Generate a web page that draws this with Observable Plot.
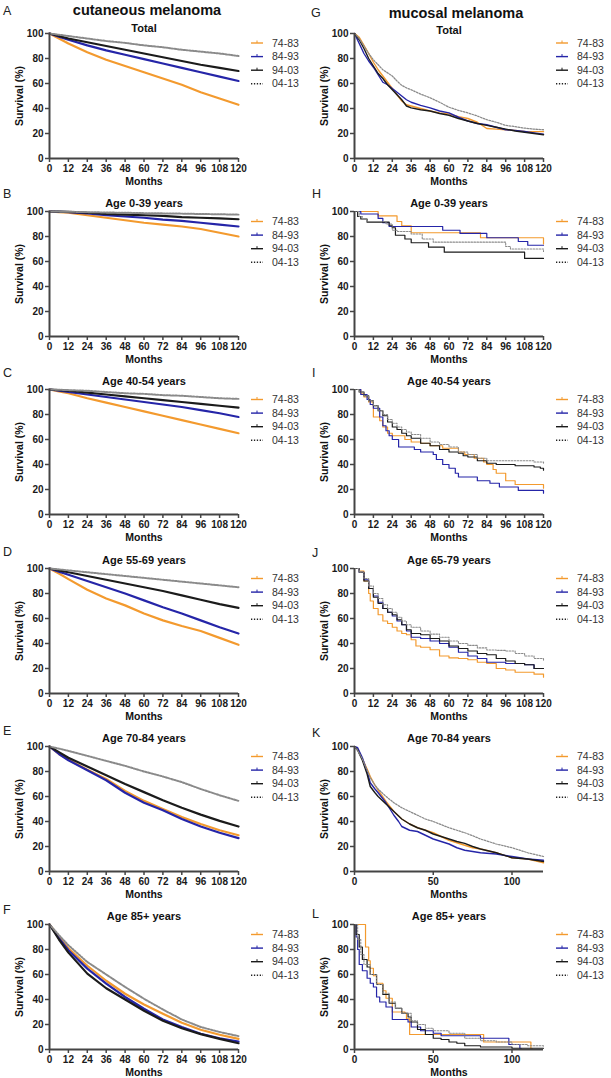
<!DOCTYPE html>
<html><head><meta charset="utf-8">
<script src="https://cdn.jsdelivr.net/npm/d3@7"></script>
<script src="https://cdn.jsdelivr.net/npm/@observablehq/plot@0.6"></script>
<style>
body{margin:0;background:#fff;font-family:"Liberation Sans",Arial,sans-serif;}
#fig{position:relative;width:611px;height:1078px;overflow:hidden;background:#fff;}
</style></head><body><div id="fig"></div>
<script>
// ---------------- data ----------------
const columnTitles = ["cutaneous melanoma", "mucosal melanoma"];
const panelLetters = ["A","B","C","D","E","F","G","H","I","J","K","L"];
const panelTitles = ["Total","Age 0-39 years","Age 40-54 years","Age 55-69 years","Age 70-84 years","Age 85+ years",
                     "Total","Age 0-39 years","Age 40-54 years","Age 65-79 years","Age 70-84 years","Age 85+ years"];
const periods = ["74-83","84-93","94-03","04-13"];
const survivalTicks = [0,20,40,60,80,100];
const monthTicks12 = [0,12,24,36,48,60,72,84,96,108,120];
const monthTicks50 = [0,50,100];
const xLabel = "Months";
const yLabel = "Survival (%)";

// cutaneous: survival (%) at these months, per period
const cutMonths = [0,6,12,24,36,48,60,72,84,96,108,120];
const cutA = [
  [100,96,92,85,79,74,69,64,59,53,48,43],
  [100,97.5,95,90.5,86.5,83,79.5,76,72.5,69,65.5,62],
  [100,98,96,93,90,87,84,81,78,75,72.5,70],
  [100,99,98,96,94,92.5,90.5,89,87,85.5,84,82]];
const cutB = [
  [100,99.5,99,97,95,93,91,89.5,88,86,83,80],
  [100,99.8,99.5,98.5,97,96,95,93.5,92.5,91,89.5,88],
  [100,99.9,99.7,99,98,97.5,97,96.5,95.5,95,94.5,93.8],
  [100,99.9,99.8,99.5,99.2,99,98.7,98.5,98.3,98,97.8,97.5]];
const cutC = [
  [100,98.5,97,93,89.5,86,82.5,79,75.5,72,68.5,65],
  [100,99,98,96,94,92,90,88,86,83.5,81,78],
  [100,99.5,99,97.5,96,94.5,93,91.5,90,88.5,87,85.5],
  [100,99.8,99.5,99,98,97,96.5,95.5,95,94,93,92.5]];
const cutD = [
  [100,96,91.5,83,76,70.5,64,58.5,54,50,44.5,39],
  [100,97.5,95,90,85,80,74.5,69,64,58.5,53,48],
  [100,98.5,97,94,91,88,85,82,78.5,75,71.5,68.5],
  [100,99.3,98.5,97,95.5,94,92.5,91,89.5,88,86.5,85]];
const cutE = [
  [100,94,89.5,81.5,74,64.5,56.5,50,43.5,38,33,29],
  [100,94,89,81,73,63,55,49,42,36,31,26.7],
  [100,95.5,91,84,77,70,63.5,57,51,45.5,40.5,36],
  [100,98.3,96.5,92.5,88.5,84.5,80,76,71.5,66,61,56.5]];
const cutF = [
  [100,90,81,67,55,44.6,36,28.6,21.4,15.8,11.8,8.5],
  [100,89,79.4,64.7,52.7,42,32.6,24,18,12.6,9,6.4],
  [100,88,77.5,60.7,49,40,31,23,17,12.3,8.5,5],
  [100,91.5,83.4,70,60,50,40.6,32,24,18,14,10.7]];

// mucosal: [month, survival %] per period
const mucG = [
  [[0,100],[3,97],[6,90.5],[9,84],[12,77],[15,71],[18,66],[21,61],[24,56],[27,51],[30,46],[33,43],[36,42],[42,40],[48,38],[54,36.5],[60,35.7],[66,33.5],[72,32],[78,29],[84,24],[90,23.5],[96,23],[102,22.5],[108,21.6],[114,21.5],[120,21.5]],
  [[0,100],[3,92],[6,84],[9,78],[12,73],[15,67],[18,61],[21,59],[24,56],[27,53],[30,50],[33,47],[36,45],[42,42.5],[48,40.5],[54,38],[60,36.5],[66,33],[72,30],[78,28],[84,27],[90,25],[96,23],[102,22.5],[108,21.6],[114,20.5],[120,19.5]],
  [[0,100],[3,95],[6,88],[9,80],[12,74],[15,68],[18,64],[21,59],[24,55],[27,51],[30,47],[33,42],[36,40.5],[42,39],[48,38],[54,36],[60,34.6],[66,32],[72,30],[78,28],[84,26.5],[90,25],[96,23.5],[102,22],[108,21],[114,20],[120,19]],
  [[0,100],[3,96],[6,90],[9,84],[12,79],[15,75],[18,71],[21,68.5],[24,66],[27,62],[30,58.5],[33,56.5],[36,55],[42,51.5],[48,48.6],[54,45],[60,41],[66,38.5],[72,36.5],[78,34],[84,31],[90,29],[96,26.5],[102,25.5],[108,24.3],[114,23.5],[120,23]]];
const mucH = [
  [[0,100],[15,96.5],[27,92],[30,88.5],[36,83],[80,79],[120,74]],
  [[0,100],[4,98],[15,94.5],[18,91],[22,88],[56,85],[67,82.5],[84,79],[104,76],[110,73],[120,73]],
  [[0,100],[2,96],[4,94],[8,91.5],[22,89],[24,87],[26,81],[32,78],[36,75],[47,71.5],[57,67.5],[108,62.5],[120,62.5]],
  [[0,100],[3,96],[5,94],[8,92],[20,90],[24,85],[27,84],[36,82],[43,78],[50,75.5],[96,72],[99,70],[120,68]]];
const mucI = [
  [[0,100],[4,97],[6,94],[9,90],[12,78],[16,75],[18,70],[21,65],[24,63],[32,60],[36,58],[42,57],[48,55],[56,53],[66,50],[70,48],[76,45],[82,42],[84,40],[88,36],[90,33],[96,27],[102,24],[120,21]],
  [[0,100],[4,96],[8,92],[10,88],[12,85],[16,78],[18,71],[20,67],[22,63],[24,60],[28,54],[38,52],[42,50],[50,48],[52,44],[56,40],[60,37],[64,33],[66,30],[78,27],[86,25],[92,22],[104,19.3],[120,17]],
  [[0,100],[3,98],[6,95],[9,91],[12,87],[15,83],[18,79],[21,74],[24,70],[27,68],[30,65],[33,63],[36,61],[42,57],[48,55],[54,52],[60,50],[66,49],[69,47],[72,46],[78,43],[84,41],[90,40],[102,39],[114,38],[118,37],[120,35.5]],
  [[0,100],[3,98],[6,95],[9,91],[12,87],[15,83],[18,80],[21,76],[24,73],[27,70],[30,68],[33,66],[36,64],[42,61],[48,58],[54,56],[60,54],[66,50],[72,48],[78,45],[84,43],[108,43],[114,42],[120,41]]];
const mucJ = [
  [[0,100],[3,98],[6,90],[9,80],[10,74],[12,68],[15,63],[18,58],[21,56],[24,53],[27,50],[30,48],[33,47],[36,43],[39,38],[42,37],[48,35],[54,30],[60,28.5],[66,28],[72,27],[78,25],[84,24],[90,20],[96,18.8],[102,17],[114,15.5],[120,13]],
  [[0,100],[3,97],[6,91],[9,84],[12,78],[15,73],[18,68],[21,65],[24,62],[27,58],[30,55],[33,50],[36,45],[42,44],[48,42],[54,40],[60,37],[66,33],[72,30],[78,28],[84,25],[96,24],[108,23],[114,20],[120,20]],
  [[0,100],[3,97],[6,90],[9,84],[12,77],[15,72],[18,68],[21,65],[24,63],[27,59],[30,55],[33,51],[36,48],[42,47],[48,44],[54,42],[60,38],[66,36],[72,34],[78,32],[84,31],[90,28],[96,26],[102,24],[108,23],[114,20],[120,20]],
  [[0,100],[3,97],[6,92],[9,86],[12,80],[15,76],[18,71],[21,68],[24,65],[27,61],[30,58],[33,55],[36,53],[42,50],[48,47.5],[54,45],[60,42],[66,40],[72,38.5],[78,36.5],[84,34.8],[90,34.5],[96,34],[102,32],[108,30],[114,28],[120,26]]];
const mucK = [
  [[0,100],[2,98],[5,90],[8,82],[10,76],[13,69],[15,65],[20,56],[25,48],[30,42],[35,38],[40,35],[45,33],[50,31],[55,28],[60,25],[65,23],[70,21],[75,19],[80,18],[90,15],[100,11],[110,10],[120,7]],
  [[0,100],[2,99],[5,91],[8,80],[10,71],[13,66],[15,63],[20,55],[25,45],[28,40],[30,36],[35,33],[40,32],[45,29],[50,26],[55,24],[60,22],[65,19],[70,17],[75,16],[80,15],[90,14],[100,12],[110,10],[120,9]],
  [[0,100],[2,97],[5,89],[8,78],[10,68],[13,63],[15,60],[20,54],[25,48],[30,42],[35,38],[40,35],[45,33],[50,30],[55,28],[60,26],[65,24],[70,22.5],[75,20],[80,18],[90,15],[100,11],[110,10],[120,8]],
  [[0,100],[2,97],[5,90],[8,81],[10,75],[13,69],[15,66],[20,60],[25,55],[30,51],[35,48],[40,45],[45,42],[50,40],[60,35],[70,31],[75,28.6],[80,26],[90,22],[100,19],[110,15],[120,12]]];
const mucL = [
  [[0,100],[7,82],[9,71],[10,65],[12,59],[14,53],[18,47],[20,41],[24,30],[32,29],[33,24.5],[35,12],[82,6],[112,0.5],[113,0.5]],
  [[0,100],[1,90],[2,80],[3,68],[5,63],[8,57],[10,53],[12,50],[14,42],[16,38],[20,34],[24,24],[34,22],[36,18],[42,15],[50,13],[55,11],[70,11],[80,9],[98,4],[105,0.5],[106,0.5]],
  [[0,100],[1,92],[3,82],[5,72],[8,66],[10,60],[14,52],[18,44],[22,37],[26,33],[30,29],[34,26],[36,22],[40,16],[45,12],[50,9],[55,8],[60,6],[65,5],[70,3],[80,2],[100,1],[120,1]],
  [[0,100],[2,88],[4,76],[6,68],[10,60],[14,52],[18,45],[22,38],[26,33],[30,29],[36,23],[40,20],[45,17],[50,15],[60,13],[70,9],[80,7],[90,6],[100,4],[110,3],[120,2]]];

// ---------------- styling / layout ----------------
const seriesStyle = [
  {stroke:"#F39A2E", dash:null},
  {stroke:"#2525A8", dash:null},
  {stroke:"#1b1b1b", dash:null},
  {stroke:"#8a8a8a", dash:"1.6,1.4"}];
const FONT = "'Liberation Sans', Arial, sans-serif";
const colLeft = [0, 305];
const colWidth = [305, 306];
const colMarginRight = [67, 68];
const frameTops = [32.5, 211, 389, 568, 746, 924];
const M = {top: 24, bottom: 30, left: 49, frameH: 125};
const titleDy = [-5,-8,-8,-8,-8,-8,-3,-8,-8,-8,-8,-8];
const letterPos = [[3,15],[3,198],[3,377],[3,556],[3,735],[3,914],[311,17],[312,198],[312,377],[312,557],[312,737],[312,918]];

function toRowsCut(arr) {
  return arr.map(vals => cutMonths.map((t, j) => ({t, s: vals[j]})));
}
function toRowsMuc(arr) {
  return arr.map(pairs => pairs.map(([t, s]) => ({t, s})));
}
const panels = [
  {series: toRowsCut(cutA), curve: "linear", xt: monthTicks12, w: 2.2},
  {series: toRowsCut(cutB), curve: "linear", xt: monthTicks12, w: 2.2},
  {series: toRowsCut(cutC), curve: "linear", xt: monthTicks12, w: 2.2},
  {series: toRowsCut(cutD), curve: "linear", xt: monthTicks12, w: 2.2},
  {series: toRowsCut(cutE), curve: "linear", xt: monthTicks12, w: 2.2},
  {series: toRowsCut(cutF), curve: "linear", xt: monthTicks12, w: 2.2},
  {series: toRowsMuc(mucG), curve: "linear", xt: monthTicks12, w: 1.4},
  {series: toRowsMuc(mucH), curve: "step-after", xt: monthTicks12, w: 1.2},
  {series: toRowsMuc(mucI), curve: "step-after", xt: monthTicks12, w: 1.2},
  {series: toRowsMuc(mucJ), curve: "step-after", xt: monthTicks12, w: 1.2},
  {series: toRowsMuc(mucK), curve: "linear", xt: monthTicks50, w: 1.4},
  {series: toRowsMuc(mucL), curve: "step-after", xt: monthTicks50, w: 1.2}];

const fig = document.getElementById("fig");

panels.forEach((pn, k) => {
  const col = k < 6 ? 0 : 1, row = k % 6;
  const width = colWidth[col];
  const height = M.top + M.frameH + M.bottom;
  const lines = pn.series.map((rows, i) => Plot.line(rows, {
    x: "t", y: "s", curve: pn.curve,
    stroke: seriesStyle[i].stroke,
    strokeWidth: i === 3 ? pn.w * 0.9 : pn.w,
    strokeDasharray: seriesStyle[i].dash || undefined
  }));
  const svg = Plot.plot({
    width, height,
    marginTop: M.top, marginBottom: M.bottom, marginLeft: M.left, marginRight: colMarginRight[col],
    x: {domain: [0, 120]},
    y: {domain: [0, 100]},
    style: {fontFamily: FONT, fontSize: "10px", fontWeight: "bold", color: "#1a1a1a", background: "transparent", overflow: "visible"},
    marks: [
      Plot.axisY({ticks: survivalTicks, tickSize: 4, tickPadding: 2, label: null, strokeWidth: 1.5, stroke: "#444"}),
      Plot.axisX({ticks: pn.xt, tickSize: 4, tickPadding: 2, label: null, strokeWidth: 1.5, stroke: "#444"}),
      ...lines,
      Plot.ruleX([0], {stroke: "#444", strokeWidth: 2}),
      Plot.ruleY([0], {stroke: "#444", strokeWidth: 2}),
      Plot.text([panelTitles[k]], {text: d => d, frameAnchor: "top", lineAnchor: "middle", textAnchor: "middle", dy: titleDy[k], fontSize: 11, fontWeight: "bold", fill: "#111"}),
      Plot.text([xLabel], {text: d => d, frameAnchor: "bottom", lineAnchor: "middle", textAnchor: "middle", dy: 23, fontSize: 10.5, fontWeight: "bold", fill: "#111"}),
      Plot.text([yLabel], {text: d => d, frameAnchor: "left", lineAnchor: "middle", textAnchor: "middle", rotate: -90, dx: -30, fontSize: 10.5, fontWeight: "bold", fill: "#111"})
    ]
  });
  svg.style.position = "absolute";
  svg.style.left = colLeft[col] + "px";
  svg.style.top = (frameTops[row] - M.top) + "px";
  fig.appendChild(svg);
});

// overlay: column titles, panel letters, legends
const ov = d3.select(fig).append("svg")
  .attr("width", 611).attr("height", 1078)
  .style("position", "absolute").style("left", "0px").style("top", "0px")
  .style("font-family", FONT);

ov.selectAll("text.ct").data(columnTitles).join("text")
  .attr("x", (d, i) => [147, 456][i]).attr("y", (d, i) => [15, 18][i])
  .attr("text-anchor", "middle").attr("font-size", 14.5).attr("font-weight", "bold").attr("fill", "#111")
  .text(d => d);

ov.selectAll("text.lt").data(panelLetters).join("text")
  .attr("x", (d, i) => letterPos[i][0]).attr("y", (d, i) => letterPos[i][1])
  .attr("font-size", 12.5).attr("fill", "#222").text(d => d);

panels.forEach((pn, k) => {
  const col = k < 6 ? 0 : 1, row = k % 6;
  const x0 = colLeft[col] + 251, x1 = colLeft[col] + 263, tx = colLeft[col] + 272;
  periods.forEach((p, i) => {
    const y = frameTops[row] + 10.5 + 13.6 * i;
    const st = seriesStyle[i];
    ov.append("line").attr("x1", x0).attr("x2", x1).attr("y1", y).attr("y2", y)
      .attr("stroke", i === 3 ? "#222" : st.stroke).attr("stroke-width", 1.4)
      .attr("stroke-dasharray", st.dash ? "1.3,1.6" : null);
    if (i < 3) ov.append("line").attr("x1", (x0 + x1) / 2).attr("x2", (x0 + x1) / 2)
      .attr("y1", y - 2.5).attr("y2", y).attr("stroke", st.stroke).attr("stroke-width", 1);
    ov.append("text").attr("x", tx).attr("y", y + 3.6)
      .attr("font-size", 10.5).attr("fill", "#333").text(p);
  });
});
</script></body></html>
